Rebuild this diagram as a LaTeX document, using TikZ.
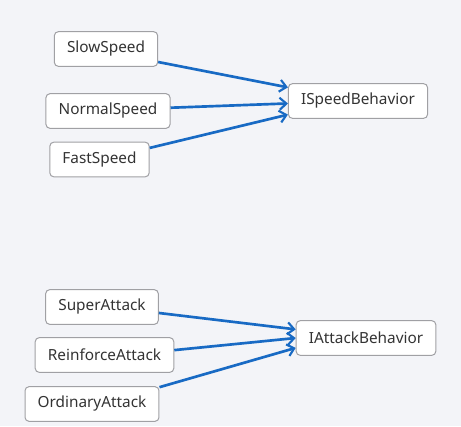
\documentclass[tikz,border=0pt]{standalone}
\usepackage{fontspec}
\setmainfont{Noto Sans}
\usetikzlibrary{arrows.meta}

\definecolor{bgcol}{RGB}{243,244,248}
\definecolor{boxline}{RGB}{160,160,164}
\definecolor{linkcol}{RGB}{24,106,196}
\definecolor{txtcol}{RGB}{51,51,51}

\tikzset{every picture/.style={line width=0.75pt}}
\tikzset{
  cls/.style={draw=boxline, fill=white, rounded corners=3pt, text=txtcol,
    font=\fontsize{11.5pt}{13.5pt}\selectfont, inner xsep=9.5pt,
    minimum height=26pt},
  link/.style={draw=linkcol, line width=2pt,
    -{Straight Barb[length=5pt,width=9pt,line width=1.6pt]}}
}

\begin{document}
\begin{tikzpicture}[x=0.75pt,y=0.75pt,yscale=-1,xscale=1]

\fill [bgcol] (0,0) rectangle (461,426) ;

% speed
\node [cls] (slow) at (106,49) {SlowSpeed};
\node [cls] (normal) at (108,111) {NormalSpeed};
\node [cls] (fast) at (99.5,159.5) {FastSpeed};
\node [cls] (speed) at (358,101) {ISpeedBehavior};

% attack
\node [cls] (super) at (102,307) {SuperAttack};
\node [cls] (reinforce) at (104.5,355) {ReinforceAttack};
\node [cls] (ordinary) at (92,404) {OrdinaryAttack};
\node [cls] (attack) at (366,338) {IAttackBehavior};

\draw [link] (slow.-14) -- (speed.169) ;
\draw [link] (normal.3) -- (speed.182) ;
\draw [link] (fast.13) -- (speed.191) ;

\draw [link] (super.-6) -- (attack.173) ;
\draw [link] (reinforce.4) -- (attack.180) ;
\draw [link] (ordinary.14) -- (attack.188) ;

\end{tikzpicture}
\end{document}
